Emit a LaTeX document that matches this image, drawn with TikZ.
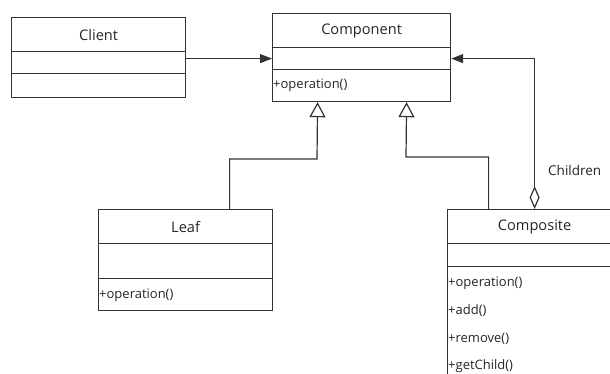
\documentclass[tikz,border=0pt]{standalone}
\usepackage{fontspec}
\setmainfont{Open Sans}
\usetikzlibrary{arrows.meta}
\begin{document}
\begin{tikzpicture}[x=1pt,y=-1pt,
  ink/.style={draw=black!80, line width=1.2pt},
  cell/.style={ink, rectangle, inner sep=0pt, anchor=north west, fill=white},
  cname/.style={font=\fontsize{14.6}{16}\selectfont, text=black!85},
  mtext/.style={font=\fontsize{13}{15}\selectfont, text=black!85, anchor=west, inner sep=0pt},
  assoc/.style={ink, -{Triangle[length=12pt,width=9pt]}},
  gen/.style={ink, -{Triangle[open,length=15pt,width=16pt,fill=white]}},
  aggr/.style={ink, {Diamond[open,length=23pt,width=10pt,fill=white]}-{Triangle[length=12pt,width=9pt]}}
]
\useasboundingbox (0,0) rectangle (610,373);
\clip (0,0) rectangle (610,373);

% Client
\node[cell, minimum width=174pt, minimum height=34pt] (clientName) at (11,17) {};
\node[cname] at (clientName.center) {Client};
\node[cell, minimum width=174pt, minimum height=22pt] (clientAttr) at (11,51) {};
\node[cell, minimum width=174pt, minimum height=24pt] (clientOps) at (11,73) {};

% Component
\node[cell, minimum width=178pt, minimum height=34pt] (compName) at (272,13) {};
\node[cname] at (compName.center) {Component};
\node[cell, minimum width=178pt, minimum height=22pt] (compAttr) at (272,47) {};
\node[cell, minimum width=178pt, minimum height=32pt] (compOps) at (272,69) {};
\node[mtext] (compOp1) at (273,85) {+operation()};

% Leaf
\node[cell, minimum width=174pt, minimum height=34pt] (leafName) at (98,209) {};
\node[cname] at (leafName.center) {Leaf};
\node[cell, minimum width=174pt, minimum height=35pt] (leafAttr) at (98,243) {};
\node[cell, minimum width=174pt, minimum height=32pt] (leafOps) at (98,278) {};
\node[mtext] (leafOp1) at (99,295) {+operation()};

% Composite
\node[cell, minimum width=174pt, minimum height=34pt] (cmpName) at (447,209) {};
\node[cname] at (cmpName.center) {Composite};
\node[cell, minimum width=174pt, minimum height=23pt] (cmpAttr) at (447,243) {};
\node[cell, minimum width=174pt, minimum height=130pt] (cmpOps) at (447,266) {};
\node[mtext] (cmpOp1) at (448,283) {+operation()};
\node[mtext] (cmpOp2) at (448,311) {+add()};
\node[mtext] (cmpOp3) at (448,339) {+remove()};
\node[mtext] (cmpOp4) at (448,366) {+getChild()};

% Client uses Component
\draw[assoc] (clientAttr.east |- compAttr.west) -- (compAttr.west);

% Leaf and Composite specialise Component
\draw[gen] ([xshift=44pt]leafName.north) |- (317,159) -- ([xshift=-44pt]compOps.south);
\draw[gen] ([xshift=-46pt]cmpName.north) |- (406,157) -- ([xshift=45pt]compOps.south);

% Composite aggregates its children
\draw[aggr] (cmpName.north) |- (compAttr.east);
\node[font=\fontsize{13.5}{15}\selectfont, text=black!85, anchor=west, inner sep=0pt] (childLbl) at (548,170) {Children};
\end{tikzpicture}
\end{document}
